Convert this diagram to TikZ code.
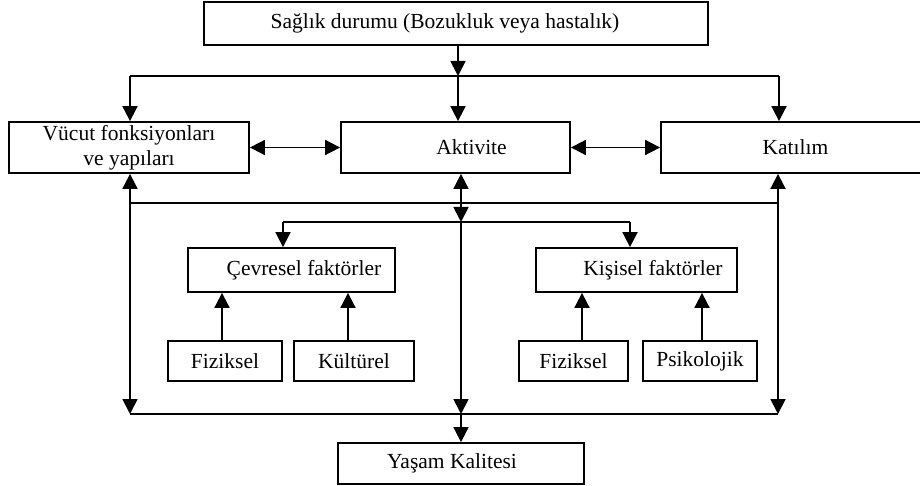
\documentclass[tikz,border=0pt]{standalone}
\usepackage{fontspec}
\setmainfont{Liberation Serif}
\usetikzlibrary{arrows.meta}
\tikzset{
    %Define standard arrow tip
    >={Triangle[width=15pt,length=15pt]},
    %Define style for boxes
    box/.style={
           rectangle,
           draw=black, line width=1.8pt,
           inner sep=0pt,
           font=\fontsize{21.5}{25}\selectfont,
           text centered},
    bigbox/.style={box, minimum height=51pt},
    smallbox/.style={box, minimum height=40pt},
    % Define arrow style
    pil/.style={
           ->,
           line width=1.8pt},
    dpil/.style={
           <->,
           line width=1.8pt}
}
\begin{document}
\begin{tikzpicture}[x=1pt,y=-1pt,line width=1.8pt]
\useasboundingbox (0,0) rectangle (920,486);
% boxes
\node[box, minimum width=504pt, minimum height=43pt] (S) at (456,23.5) {Sağlık durumu (Bozukluk veya hastalık)\hspace*{22pt}};
\node[bigbox, minimum width=240pt, align=center] (V) at (129,147.5) {Vücut fonksiyonları\\ve yapıları};
\node[bigbox, minimum width=229pt] (A) at (455.5,147.5) {\hspace*{32pt}Aktivite};
\node[bigbox, minimum width=261pt] (K) at (791.5,147.5) {\hspace*{8pt}Katılım};
\node[box, minimum width=207pt, minimum height=44pt] (C) at (291.5,270) {\hspace*{25pt}Çevresel faktörler};
\node[box, minimum width=201pt, minimum height=44pt] (P) at (636.5,270) {\hspace*{33pt}Kişisel faktörler};
\node[smallbox, minimum width=114pt] (F1) at (225,361) {Fiziksel};
\node[smallbox, minimum width=120pt] (F2) at (354,361) {Kültürel};
\node[smallbox, minimum width=109pt] (F3) at (573.5,361) {Fiziksel};
\node[smallbox, minimum width=114pt] (F4) at (700,361) {Psikolojik};
\node[smallbox, minimum width=246pt, minimum height=41pt] (Y) at (461,463.5) {Yaşam Kalitesi\hspace*{18pt}};
% junctions
\coordinate (t) at (458,76);
\coordinate (tl) at (130,76);
\coordinate (tr) at (779,76);
\coordinate (ml) at (130,203);
\coordinate (mc) at (461,203);
\coordinate (mr) at (778,203);
\coordinate (fl) at (283,222);
\coordinate (fc) at (461,222);
\coordinate (fr) at (630,222);
\coordinate (bl) at (130,414);
\coordinate (bc) at (461,414);
\coordinate (br) at (778,414);
% top
\draw[pil] (S.south -| t) -- (t);
\draw (tl) -- (tr);
\draw[pil] (tl) -- (tl |- V.north);
\draw[pil] (t) -- (t |- A.north);
\draw[pil] (tr) -- (tr |- K.north);
\draw[dpil] (V.east) -- (A.west);
\draw[dpil] (A.east) -- (K.west);
% middle
\draw (ml) -- (mr);
\draw[dpil] (V.south -| bl) -- (bl);
\draw[dpil] (K.south -| br) -- (br);
\draw[pil] (mc) -- (A.south -| mc);
\draw[pil] (mc) -- (fc);
\draw (fl) -- (fr);
\draw[pil] (fl) -- (C.north -| fl);
\draw[pil] (fr) -- (P.north -| fr);
\draw[pil] ([xshift=-3pt]F1.north) -- ([xshift=-3pt]F1.north |- C.south);
\draw[pil] ([xshift=-6pt]F2.north) -- ([xshift=-6pt]F2.north |- C.south);
\draw[pil] ([xshift=8.5pt]F3.north) -- ([xshift=8.5pt]F3.north |- P.south);
\draw[pil] ([xshift=2pt]F4.north) -- ([xshift=2pt]F4.north |- P.south);
% bottom
\draw[pil] (fc) -- (bc);
\draw (bl) -- (br);
\draw[pil] (bc) -- (Y.north -| bc);
\end{tikzpicture}
\end{document}
